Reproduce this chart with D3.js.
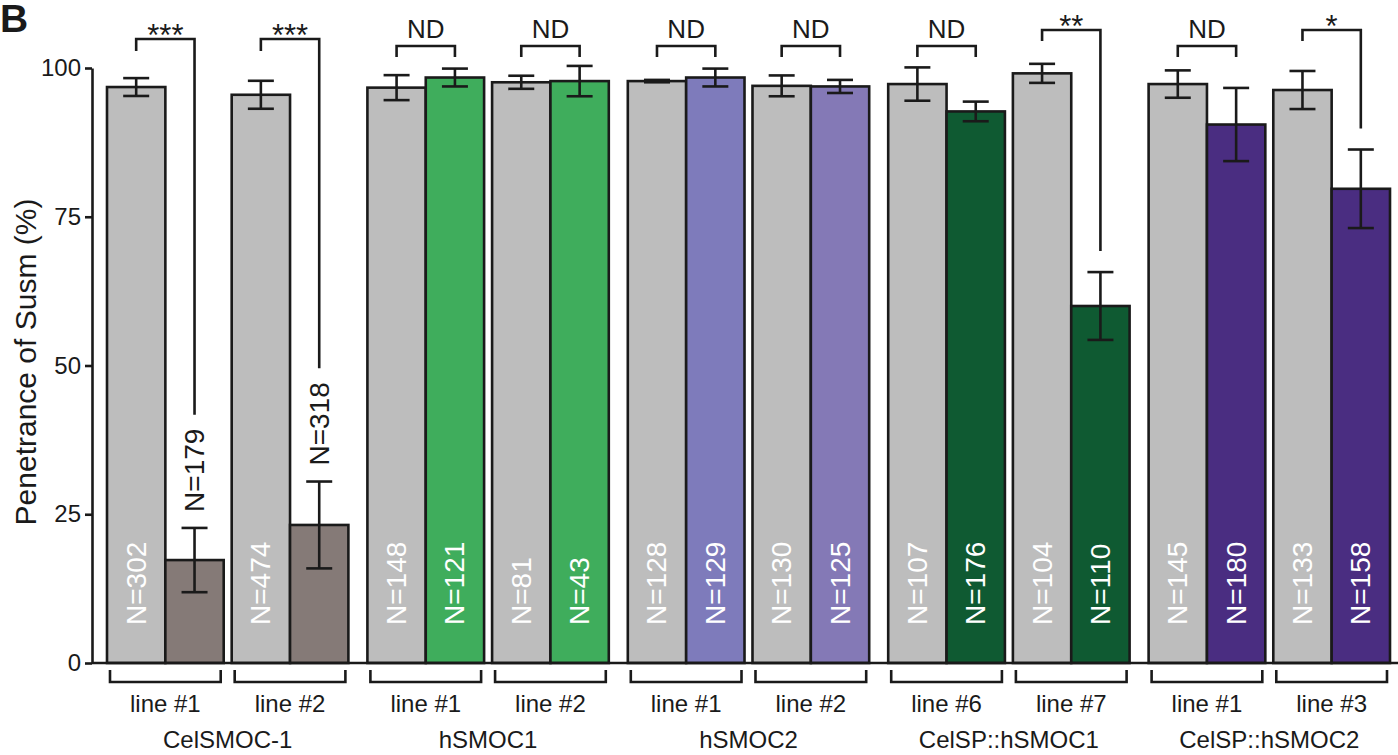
<!DOCTYPE html>
<html>
<head>
<meta charset="utf-8">
<script src="https://cdn.jsdelivr.net/npm/d3@7"></script>
<style>
  html, body { margin: 0; padding: 0; background: #fff; }
  svg { display: block; font-family: "Liberation Sans", Arial, sans-serif; }
</style>
</head>
<body>
<svg id="chart" width="1398" height="755"></svg>
<script>
// Constructs and their transgenic lines
const genes = ["CelSMOC-1", "hSMOC1", "hSMOC2", "CelSP::hSMOC1", "CelSP::hSMOC2"];
const lineNames = [
  ["line #1", "line #2"],
  ["line #1", "line #2"],
  ["line #1", "line #2"],
  ["line #6", "line #7"],
  ["line #1", "line #3"]
];

// Penetrance (%) per line: control (grey) vs transgene (coloured)
const controlMean = [96.8, 95.5, 96.7, 97.6, 97.8, 97.0, 97.3, 99.1, 97.3, 96.3];
const controlErr  = [1.5, 2.35, 2.1, 1.1, 0.2, 1.75, 2.8, 1.6, 2.3, 3.2];
const transMean   = [17.3, 23.2, 98.4, 97.8, 98.4, 96.9, 92.7, 60.0, 90.5, 79.7];
const transErr    = [5.4, 7.3, 1.5, 2.55, 1.5, 1.1, 1.65, 5.7, 6.15, 6.6];
const controlN    = [302, 474, 148, 81, 128, 130, 107, 104, 145, 133];
const transN      = [179, 318, 121, 43, 129, 125, 176, 110, 180, 158];
const significance = ["***", "***", "ND", "ND", "ND", "ND", "ND", "**", "ND", "*"];
const transColor  = ["#857a77", "#857a77", "#3fad5c", "#3fad5c", "#7e7bbb", "#8479b6",
                     "#0f5a32", "#0f5a32", "#4a2d81", "#4a2d81"];
const yTicks = [0, 25, 50, 75, 100];

const svg = d3.select("#chart");
const ink = "#1a1a1a";
const sw = 2.6;

const y = d3.scaleLinear().domain([0, 100]).range([663, 68]);
const xGene = d3.scaleBand().domain(d3.range(genes.length)).range([107, 1390])
  .paddingInner(0.073).paddingOuter(0);
const xLine = d3.scaleBand().domain([0, 1]).range([0, xGene.bandwidth()])
  .paddingInner(0.064).paddingOuter(0);
const xBar = d3.scaleBand().domain(["control", "trans"]).range([0, xLine.bandwidth()]);

// one record per transgenic line
const pairs = d3.range(10).map(i => {
  const g = Math.floor(i / 2), l = i % 2;
  const x0 = xGene(g) + xLine(l);
  return {
    i, g, l, x0,
    name: lineNames[g][l],
    bars: [
      { key: "control", mean: controlMean[i], err: controlErr[i], n: controlN[i], fill: "#bdbdbd" },
      { key: "trans", mean: transMean[i], err: transErr[i], n: transN[i], fill: transColor[i] }
    ],
    sig: significance[i]
  };
});

// panel letter
svg.append("text").attr("x", 0).attr("y", 32)
  .attr("font-size", 39).attr("font-weight", "bold").attr("fill", ink).text("B");

// y axis
const yAxis = svg.append("g").attr("transform", "translate(92,0)")
  .call(d3.axisLeft(y).tickValues(yTicks).tickSize(7).tickSizeOuter(0).tickPadding(4));
yAxis.select(".domain").attr("stroke", ink).attr("stroke-width", sw);
yAxis.selectAll(".tick line").attr("stroke", ink).attr("stroke-width", sw);
yAxis.selectAll(".tick text").attr("font-size", 24).attr("fill", ink)
  .attr("font-family", "Liberation Sans, Arial, sans-serif");

svg.append("text")
  .attr("transform", "translate(36,362) rotate(-90)")
  .attr("text-anchor", "middle").attr("font-size", 30).attr("fill", ink)
  .text("Penetrance of Susm (%)");

// bars
const pairG = svg.selectAll("g.pair").data(pairs).join("g").attr("class", "pair")
  .attr("transform", d => `translate(${d.x0},0)`);

pairG.selectAll("rect").data(d => d.bars).join("rect")
  .attr("x", b => xBar(b.key))
  .attr("y", b => y(b.mean))
  .attr("width", xBar.bandwidth())
  .attr("height", b => y(0) - y(b.mean))
  .attr("fill", b => b.fill)
  .attr("stroke", ink).attr("stroke-width", sw);

// error bars
const capW = 26;
pairG.each(function (d) {
  const g = d3.select(this);
  d.bars.forEach(b => {
    const cx = xBar(b.key) + xBar.bandwidth() / 2;
    const hi = y(b.mean + b.err), lo = y(b.mean - b.err);
    g.append("line").attr("x1", cx).attr("x2", cx).attr("y1", hi).attr("y2", lo)
      .attr("stroke", ink).attr("stroke-width", sw);
    [hi, lo].forEach(yy => g.append("line")
      .attr("x1", cx - capW / 2).attr("x2", cx + capW / 2).attr("y1", yy).attr("y2", yy)
      .attr("stroke", ink).attr("stroke-width", sw));
  });
});

// N labels: white inside bars, black above short bars
const labelBase = 625;
pairG.each(function (d) {
  const g = d3.select(this);
  d.bars.forEach(b => {
    const cx = xBar(b.key) + xBar.bandwidth() / 2;
    const inside = b.mean > 50;
    const y0 = inside ? labelBase : y(b.mean + b.err) - 16;
    const t = g.append("text")
      .attr("transform", `translate(${cx},${y0}) rotate(-90)`)
      .attr("dominant-baseline", "central")
      .attr("font-size", 28)
      .attr("fill", inside ? "#ffffff" : ink)
      .text("N=" + b.n);
    b.labelTop = y0 - t.node().getComputedTextLength();
  });
});

// significance brackets
pairG.each(function (d) {
  const g = d3.select(this);
  const cxA = xBar("control") + xBar.bandwidth() / 2;
  const cxB = xBar("trans") + xBar.bandwidth() / 2;
  let top, leftEnd, rightEnd, textY, fs;
  const tb = d.bars[1];
  if (d.sig === "ND") {
    top = 46; leftEnd = 57; rightEnd = 57; textY = 38; fs = 26;
  } else if (d.sig === "***") {
    top = 39; leftEnd = 51; rightEnd = tb.labelTop - 14; textY = 46; fs = 31;
  } else {
    top = 30; leftEnd = 41; rightEnd = y(tb.mean + tb.err) - 21; textY = 37; fs = 31;
  }
  g.append("path")
    .attr("d", `M${cxA},${leftEnd}V${top}H${cxB}V${rightEnd}`)
    .attr("fill", "none").attr("stroke", ink).attr("stroke-width", sw);
  g.append("text").attr("x", (cxA + cxB) / 2).attr("y", textY)
    .attr("text-anchor", "middle").attr("font-size", fs).attr("fill", ink)
    .text(d.sig);
});

// x axis baseline
svg.append("line").attr("x1", 92).attr("x2", 1398).attr("y1", y(0)).attr("y2", y(0))
  .attr("stroke", ink).attr("stroke-width", sw);

// line brackets and labels under the axis
pairG.append("path")
  .attr("d", () => `M3,670V682H${xLine.bandwidth() - 3}V670`)
  .attr("fill", "none").attr("stroke", ink).attr("stroke-width", sw);
pairG.append("text")
  .attr("x", xLine.bandwidth() / 2).attr("y", 712)
  .attr("text-anchor", "middle").attr("font-size", 24).attr("fill", ink)
  .text(d => d.name);

// construct names
svg.selectAll("text.gene").data(genes).join("text").attr("class", "gene")
  .attr("x", (d, i) => xGene(i) + xGene.bandwidth() / 2).attr("y", 748)
  .attr("text-anchor", "middle").attr("font-size", 24).attr("fill", ink)
  .text(d => d);
</script>
</body>
</html>
